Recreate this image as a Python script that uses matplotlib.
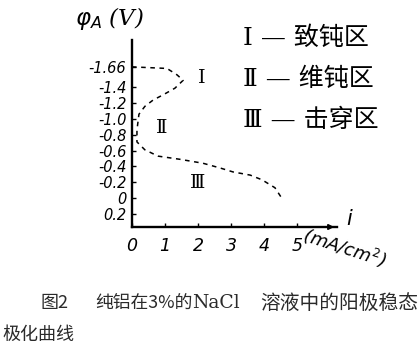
import matplotlib
matplotlib.use("Agg")
import matplotlib.pyplot as plt
import numpy as np

plt.rcParams['font.family'] = ['Noto Sans CJK SC', 'DejaVu Sans']

# ---- data ----
current = [0.0, 1.06, 1.36, 1.55, 1.30, 0.96, 0.64, 0.39, 0.21, 0.15, 0.15,
           0.39, 0.79, 1.45, 2.15, 2.67, 3.06, 3.58, 3.94, 4.33, 4.58]
potential = [-1.66, -1.64, -1.56, -1.49, -1.39, -1.31, -1.24, -1.16, -1.06, -0.86, -0.71,
             -0.61, -0.53, -0.49, -0.44, -0.38, -0.33, -0.29, -0.23, -0.13, 0.03]
ytick_vals = [-1.66, -1.4, -1.2, -1.0, -0.8, -0.6, -0.4, -0.2, 0.0, 0.2]
ytick_labels = ["-1.66", "-1.4", "-1.2", "-1.0", "-0.8", "-0.6", "-0.4", "-0.2", "0", "0.2"]
xtick_vals = [0, 1, 2, 3, 4, 5]
xtick_labels = ["0", "1", "2", "3", "4", "5"]
region_labels = ["Ⅰ", "Ⅱ", "Ⅲ"]
legend_lines = ["Ⅰ — 致钝区", "Ⅱ — 维钝区", "Ⅲ — 击穿区"]
caption_fig = "图2"
caption_a = "纯铝在3%的"
caption_b = "NaCl"
caption_c = "溶液中的阳极稳态"
caption2 = "极化曲线"

W, H = 420, 347
fig = plt.figure(figsize=(W / 100, H / 100), dpi=100)
fig.patch.set_facecolor("white")

def fx(x):
    return x / W

def fy(y):
    return 1 - y / H

# axes: y-axis at x=132 px, x-axis at y=227 px, top 40 px, right 337 px
ax = fig.add_axes([fx(132), fy(227), (337 - 132) / W, (227 - 40) / H])
ax.set_xlim(0, 6.21)
ax.set_ylim(0.367, -2.0)

ax.plot(current, potential, color="black", lw=1.1, linestyle=(0, (3, 3)))

for s in ["top", "right"]:
    ax.spines[s].set_visible(False)
for s in ["left", "bottom"]:
    ax.spines[s].set_linewidth(1.7)
    ax.spines[s].set_color("black")

ax.set_yticks(ytick_vals)
ax.set_yticklabels(ytick_labels, fontsize=10.5, style="italic", family=["DejaVu Sans"])
ax.set_xticks(xtick_vals)
ax.set_xticklabels(xtick_labels, fontsize=12.5, style="italic", family=["DejaVu Sans"])
ax.tick_params(axis="y", direction="in", length=3, width=1, pad=4)
ax.tick_params(axis="x", direction="in", length=3, width=1, pad=7)

# arrow at end of x-axis
ax.annotate("", xy=(1.0, 0), xytext=(0.93, 0), xycoords="axes fraction",
            arrowprops=dict(arrowstyle="-|>", color="black", lw=1.2, mutation_scale=8))

# region labels
ax.text(2.12, -1.52, region_labels[0], fontsize=14, family=["DejaVu Serif"], ha="center", va="center")
ax.text(0.90, -0.88, region_labels[1], fontsize=14, family=["DejaVu Serif"], ha="center", va="center")
ax.text(1.99, -0.19, region_labels[2], fontsize=14, family=["DejaVu Serif"], ha="center", va="center")

# axis titles
fig.text(fx(75), fy(18), r"$\varphi_A$ (V)", fontsize=16.5, style="italic",
         family=["DejaVu Serif"], ha="left", va="center")
fig.text(fx(350), fy(219), r"$i$", fontsize=15, ha="center", va="center")
fig.text(fx(344), fy(248), r"(mA/cm$^2$)", fontsize=13, style="italic",
         family=["DejaVu Sans"], ha="center", va="center", rotation=-18)

# legend text
for txt, yy in zip(legend_lines, [38, 79, 120]):
    fig.text(fx(243), fy(yy), txt, fontsize=18,
             family=["DejaVu Serif", "Noto Sans CJK SC"], ha="left", va="center")

# caption
cap_col = "#2a2a2a"
fig.text(fx(40), fy(303), caption_fig, fontsize=13, family=["Noto Sans CJK SC"],
         ha="left", va="center", color=cap_col)
fig.text(fx(95), fy(303), caption_a, fontsize=12.8, family=["Noto Sans CJK SC"],
         ha="left", va="center", color=cap_col)
fig.text(fx(192), fy(303), caption_b, fontsize=13.5, family=["DejaVu Serif"],
         ha="left", va="center", color=cap_col)
fig.text(fx(418), fy(303), caption_c, fontsize=14.2, family=["Noto Sans CJK SC"],
         ha="right", va="center", color=cap_col)
fig.text(fx(2), fy(335), caption2, fontsize=13, family=["Noto Sans CJK SC"],
         ha="left", va="center", color=cap_col)

fig.savefig("out.png", dpi=100)
